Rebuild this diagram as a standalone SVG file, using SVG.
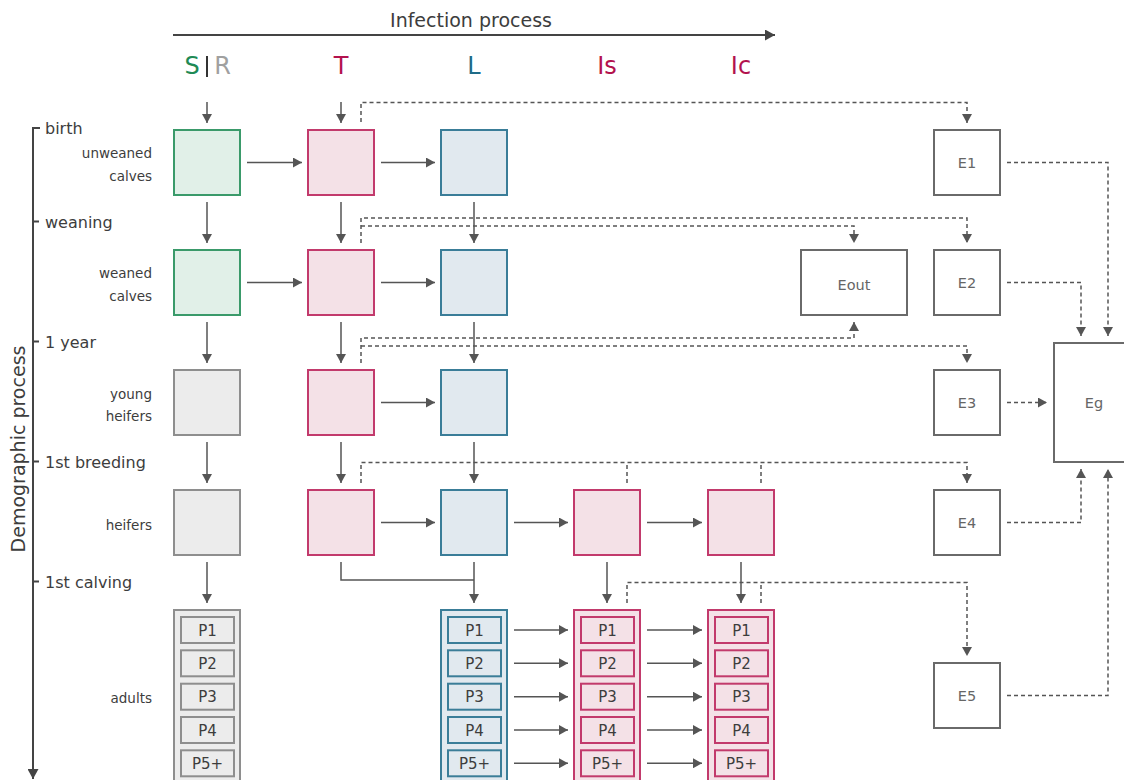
<svg xmlns="http://www.w3.org/2000/svg" width="1124" height="780" viewBox="0 0 1124 780">
  <defs>
    <marker id="arr" markerUnits="userSpaceOnUse" markerWidth="10" markerHeight="10" refX="9" refY="5" orient="auto">
      <path d="M0,0 L9,5 L0,10 z" fill="#555"/>
    </marker>
    <marker id="arrAxis" markerUnits="userSpaceOnUse" markerWidth="11" markerHeight="11" refX="10" refY="5.5" orient="auto">
      <path d="M0,0 L10,5.5 L0,11 z" fill="#444"/>
    </marker>
    <style>
      text { font-family: "DejaVu Sans", "Liberation Sans", sans-serif; fill: #3d3d3d; }
      .axis { stroke: #444; stroke-width: 2; fill: none; }
      .axisLbl { font-size: 19px; }
      .stage { font-size: 16px; }
      .row { font-size: 13.5px; text-anchor: end; }
      .hdr { font-size: 24px; text-anchor: middle; }
      .box { stroke-width: 2; }
      .sus { fill: #e1f0e8; stroke: #3a9a6a; }
      .inf { fill: #f4e1e7; stroke: #c23a6c; }
      .lat { fill: #e1e9ef; stroke: #3a7d98; }
      .res { fill: #ececec; stroke: #8e8e8e; }
      .env { fill: #ffffff; stroke: #6a6a6a; }
      .elbl { font-size: 14.5px; text-anchor: middle; fill: #666; }
      .plbl { font-size: 15px; text-anchor: middle; fill: #3d3d3d; }
      .flow { stroke: #555; stroke-width: 1.5; fill: none; marker-end: url(#arr); }
      .line { stroke: #555; stroke-width: 1.5; fill: none; }
      .dash { stroke: #555; stroke-width: 1.5; fill: none; stroke-dasharray: 4 3; }
      .dashArr { stroke: #555; stroke-width: 1.5; fill: none; stroke-dasharray: 4 3; marker-end: url(#arr); }
    </style>
  </defs>

  <!-- process axes -->
  <g id="axes">
    <path class="axis" d="M173,35 H775" marker-end="url(#arrAxis)"/>
    <text class="axisLbl" x="471" y="27" text-anchor="middle">Infection process</text>
    <path class="axis" d="M40,128 H33 V779" marker-end="url(#arrAxis)"/>
    <path class="axis" d="M33,221.5 H39 M33,341.5 H39 M33,461.5 H39 M33,581.5 H39"/>
    <text class="axisLbl" transform="translate(25,449) rotate(-90)" text-anchor="middle">Demographic process</text>
  </g>

  <!-- stage labels -->
  <g id="stages">
    <text class="stage" x="45" y="134">birth</text>
    <text class="stage" x="45" y="228">weaning</text>
    <text class="stage" x="45" y="348">1 year</text>
    <text class="stage" x="45" y="468">1st breeding</text>
    <text class="stage" x="45" y="588">1st calving</text>
    <text class="row" x="152" y="158">unweaned</text>
    <text class="row" x="152" y="181">calves</text>
    <text class="row" x="152" y="278">weaned</text>
    <text class="row" x="152" y="301">calves</text>
    <text class="row" x="152" y="399">young</text>
    <text class="row" x="152" y="421">heifers</text>
    <text class="row" x="152" y="530">heifers</text>
    <text class="row" x="152" y="703">adults</text>
  </g>

  <!-- compartment headers -->
  <g id="headers">
    <text class="hdr" x="192" y="74" style="fill:#1f8a55">S</text>
    <path d="M207,56 V77" stroke="#333" stroke-width="2"/>
    <text class="hdr" x="222.5" y="74" style="fill:#a0a0a0">R</text>
    <text class="hdr" x="341" y="74" style="fill:#b3124e">T</text>
    <text class="hdr" x="474" y="74" style="fill:#1e6b88">L</text>
    <text class="hdr" x="607" y="74" style="fill:#b3124e">Is</text>
    <text class="hdr" x="741" y="74" style="fill:#b3124e">Ic</text>
  </g>

  <!-- S|R column -->
  <g id="S1"><rect class="box sus" x="174" y="130" width="66" height="65"/></g>
  <g id="S2"><rect class="box sus" x="174" y="250" width="66" height="65"/></g>
  <g id="R3"><rect class="box res" x="174" y="370" width="66" height="65"/></g>
  <g id="R4"><rect class="box res" x="174" y="490" width="66" height="65"/></g>
  <g id="R5">
    <rect class="box res" x="174" y="610" width="66" height="180"/>
    <rect class="box res" x="181" y="617" width="53" height="26"/>
    <rect class="box res" x="181" y="650.3" width="53" height="26"/>
    <rect class="box res" x="181" y="683.7" width="53" height="26"/>
    <rect class="box res" x="181" y="717" width="53" height="26"/>
    <rect class="box res" x="181" y="750.3" width="53" height="26"/>
    <text class="plbl" x="207.5" y="635.5">P1</text>
    <text class="plbl" x="207.5" y="668.8">P2</text>
    <text class="plbl" x="207.5" y="702.2">P3</text>
    <text class="plbl" x="207.5" y="735.5">P4</text>
    <text class="plbl" x="207.5" y="768.8">P5+</text>
  </g>

  <!-- T column -->
  <g id="T1"><rect class="box inf" x="308" y="130" width="66" height="65"/></g>
  <g id="T2"><rect class="box inf" x="308" y="250" width="66" height="65"/></g>
  <g id="T3"><rect class="box inf" x="308" y="370" width="66" height="65"/></g>
  <g id="T4"><rect class="box inf" x="308" y="490" width="66" height="65"/></g>

  <!-- L column -->
  <g id="L1"><rect class="box lat" x="441" y="130" width="66" height="65"/></g>
  <g id="L2"><rect class="box lat" x="441" y="250" width="66" height="65"/></g>
  <g id="L3"><rect class="box lat" x="441" y="370" width="66" height="65"/></g>
  <g id="L4"><rect class="box lat" x="441" y="490" width="66" height="65"/></g>
  <g id="L5">
    <rect class="box lat" x="441" y="610" width="66" height="180"/>
    <rect class="box lat" x="448" y="617" width="53" height="26"/>
    <rect class="box lat" x="448" y="650.3" width="53" height="26"/>
    <rect class="box lat" x="448" y="683.7" width="53" height="26"/>
    <rect class="box lat" x="448" y="717" width="53" height="26"/>
    <rect class="box lat" x="448" y="750.3" width="53" height="26"/>
    <text class="plbl" x="474.5" y="635.5">P1</text>
    <text class="plbl" x="474.5" y="668.8">P2</text>
    <text class="plbl" x="474.5" y="702.2">P3</text>
    <text class="plbl" x="474.5" y="735.5">P4</text>
    <text class="plbl" x="474.5" y="768.8">P5+</text>
  </g>

  <!-- Is column -->
  <g id="Is4"><rect class="box inf" x="574" y="490" width="66" height="65"/></g>
  <g id="Is5">
    <rect class="box inf" x="574" y="610" width="66" height="180"/>
    <rect class="box inf" x="581" y="617" width="53" height="26"/>
    <rect class="box inf" x="581" y="650.3" width="53" height="26"/>
    <rect class="box inf" x="581" y="683.7" width="53" height="26"/>
    <rect class="box inf" x="581" y="717" width="53" height="26"/>
    <rect class="box inf" x="581" y="750.3" width="53" height="26"/>
    <text class="plbl" x="607.5" y="635.5">P1</text>
    <text class="plbl" x="607.5" y="668.8">P2</text>
    <text class="plbl" x="607.5" y="702.2">P3</text>
    <text class="plbl" x="607.5" y="735.5">P4</text>
    <text class="plbl" x="607.5" y="768.8">P5+</text>
  </g>

  <!-- Ic column -->
  <g id="Ic4"><rect class="box inf" x="708" y="490" width="66" height="65"/></g>
  <g id="Ic5">
    <rect class="box inf" x="708" y="610" width="66" height="180"/>
    <rect class="box inf" x="715" y="617" width="53" height="26"/>
    <rect class="box inf" x="715" y="650.3" width="53" height="26"/>
    <rect class="box inf" x="715" y="683.7" width="53" height="26"/>
    <rect class="box inf" x="715" y="717" width="53" height="26"/>
    <rect class="box inf" x="715" y="750.3" width="53" height="26"/>
    <text class="plbl" x="741.5" y="635.5">P1</text>
    <text class="plbl" x="741.5" y="668.8">P2</text>
    <text class="plbl" x="741.5" y="702.2">P3</text>
    <text class="plbl" x="741.5" y="735.5">P4</text>
    <text class="plbl" x="741.5" y="768.8">P5+</text>
  </g>

  <!-- environment compartments -->
  <g id="E1"><rect class="box env" x="934" y="130" width="66" height="65"/><text class="elbl" x="967" y="168">E1</text></g>
  <g id="E2"><rect class="box env" x="934" y="250" width="66" height="65"/><text class="elbl" x="967" y="288">E2</text></g>
  <g id="E3"><rect class="box env" x="934" y="370" width="66" height="65"/><text class="elbl" x="967" y="408">E3</text></g>
  <g id="E4"><rect class="box env" x="934" y="490" width="66" height="65"/><text class="elbl" x="967" y="528">E4</text></g>
  <g id="E5"><rect class="box env" x="934" y="663" width="66" height="65"/><text class="elbl" x="967" y="701">E5</text></g>
  <g id="Eout"><rect class="box env" x="801" y="250" width="106" height="65"/><text class="elbl" x="854" y="290">Eout</text></g>
  <g id="Eg"><rect class="box env" x="1054" y="343" width="80" height="119"/><text class="elbl" x="1094" y="408">Eg</text></g>

  <!-- connectors -->
  <g id="connectors">
    <!-- entries at birth -->
    <path class="flow" d="M207,102 V123"/>
    <path class="flow" d="M341,102 V123"/>

    <!-- ageing (vertical) -->
    <path class="flow" d="M207,202 V243"/>
    <path class="flow" d="M207,322 V363"/>
    <path class="flow" d="M207,442 V483"/>
    <path class="flow" d="M207,562 V603"/>
    <path class="flow" d="M341,202 V243"/>
    <path class="flow" d="M341,322 V363"/>
    <path class="flow" d="M341,442 V483"/>
    <path class="line" d="M341,562 V580 H474"/>
    <path class="flow" d="M474,202 V243"/>
    <path class="flow" d="M474,322 V363"/>
    <path class="flow" d="M474,442 V483"/>
    <path class="flow" d="M474,562 V603"/>
    <path class="flow" d="M607,562 V603"/>
    <path class="flow" d="M741,562 V603"/>

    <!-- infection (horizontal) -->
    <path class="flow" d="M247,162.5 H302"/>
    <path class="flow" d="M381,162.5 H435"/>
    <path class="flow" d="M247,282.5 H302"/>
    <path class="flow" d="M381,282.5 H435"/>
    <path class="flow" d="M381,402.5 H435"/>
    <path class="flow" d="M381,522.5 H435"/>
    <path class="flow" d="M514,522.5 H568"/>
    <path class="flow" d="M647,522.5 H702"/>
    <path class="flow" d="M514,630 H568"/>
    <path class="flow" d="M514,663.3 H568"/>
    <path class="flow" d="M514,696.7 H568"/>
    <path class="flow" d="M514,730 H568"/>
    <path class="flow" d="M514,763.3 H568"/>
    <path class="flow" d="M647,630 H702"/>
    <path class="flow" d="M647,663.3 H702"/>
    <path class="flow" d="M647,696.7 H702"/>
    <path class="flow" d="M647,730 H702"/>
    <path class="flow" d="M647,763.3 H702"/>

    <!-- shedding into the environment -->
    <path class="dashArr" d="M361,122 V102.5 H967 V123"/>
    <path class="dashArr" d="M361,243 V218 H967 V243"/>
    <path class="dashArr" d="M361,226 H854 V243"/>
    <path class="dashArr" d="M361,363 V338 H854 V322"/>
    <path class="dashArr" d="M361,346 H967 V363"/>
    <path class="dashArr" d="M361,483 V462.5 H967 V483"/>
    <path class="dash" d="M627,483 V462.5"/>
    <path class="dash" d="M761,483 V462.5"/>
    <path class="dashArr" d="M627,603 V582.5 H967 V656"/>
    <path class="dash" d="M761,603 V582.5"/>

    <!-- environment to global environment -->
    <path class="dashArr" d="M1007,162.5 H1108 V336"/>
    <path class="dashArr" d="M1007,282.5 H1081 V336"/>
    <path class="dashArr" d="M1007,402.5 H1047"/>
    <path class="dashArr" d="M1007,522.5 H1081 V469"/>
    <path class="dashArr" d="M1007,695.5 H1108 V469"/>
  </g>
</svg>
